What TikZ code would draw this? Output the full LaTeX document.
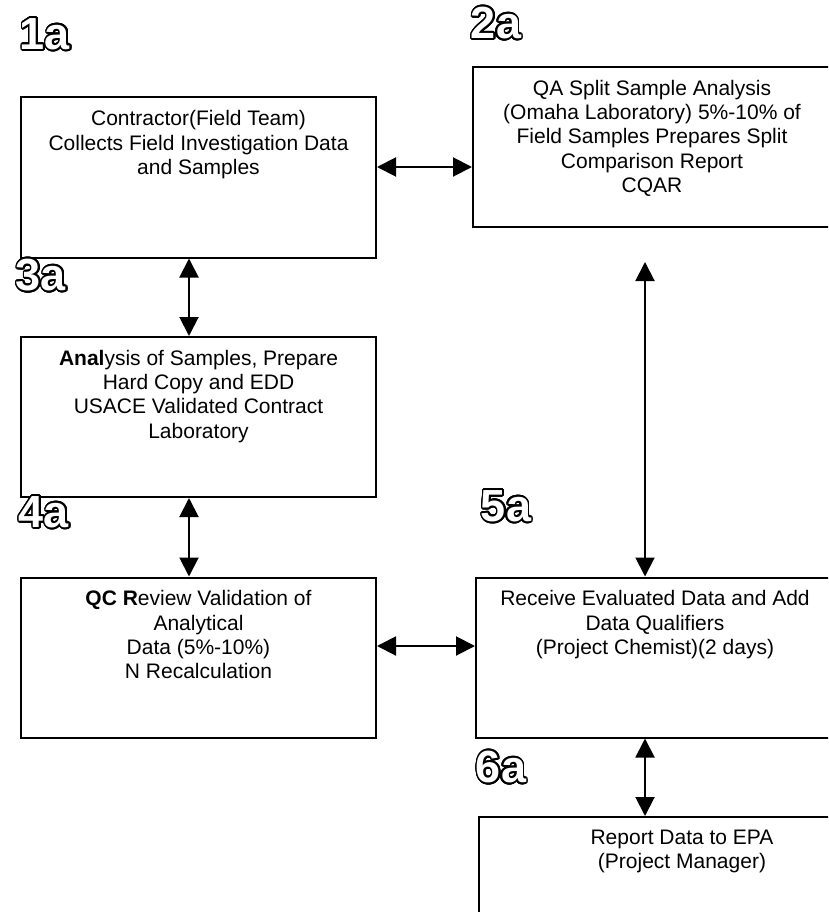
\documentclass[tikz,border=0pt]{standalone}
\usepackage{fontspec}
\setmainfont{Liberation Sans}
\usepackage[copies]{contour}
\usetikzlibrary{arrows.meta}

\contourlength{1.8pt}
\contournumber{24}

% text of a stage box, set at the top of a fixed-height frame
\newcommand{\stagetext}[2]{%
  \begin{minipage}[c][160pt][t]{#1}\centering
  \fontsize{21}{24.3}\selectfont\vspace*{13pt}#2\end{minipage}}
\newcommand{\tagtext}[1]{\color{white}\contour{black}{#1}}

\tikzset{
  stage/.style={draw, line width=2pt, rectangle, inner sep=0pt},
  link/.style={{Triangle[length=19pt,width=19pt]}-{Triangle[length=19pt,width=19pt]}, line width=2pt},
  tag/.style={inner sep=0pt, font=\fontsize{45}{45}\selectfont\bfseries}
}

\begin{document}
\begin{tikzpicture}[x=1pt, y=-1pt]
 \useasboundingbox (0,0) rectangle (828,912);
 \clip (0,0) rectangle (828,912);

 % stages
 \node[stage] (b1) at (198.5,177.5) {\stagetext{355pt}{Contractor(Field Team)\\ Collects Field Investigation Data\\ and Samples}};
 \node[stage] (b2) at (652,147) {\stagetext{358pt}{QA Split Sample Analysis\\ (Omaha Laboratory) 5\%-10\% of\\ Field Samples Prepares Split\\ Comparison Report\\ CQAR}};
 \node[stage] (b3) at (198.5,417) {\stagetext{355pt}{\textbf{Anal}ysis of Samples, Prepare\\ Hard Copy and EDD\\ USACE Validated Contract\\ Laboratory}};
 \node[stage] (b4) at (198.5,657.5) {\stagetext{355pt}{\textbf{QC R}eview Validation of\\ Analytical\\ Data (5\%-10\%)\\ N Recalculation}};
 \node[stage] (b5) at (655,657.5) {\stagetext{358pt}{Receive Evaluated Data and Add\\ Data Qualifiers\\ (Project Chemist)(2 days)}};
 \node[stage] (b6) at (682,897) {\stagetext{406pt}{Report Data to EPA\\ (Project Manager)}};

 % step tags
 \node[tag] (tag1) at (45,35) {\tagtext{1a}};
 \node[tag] (tag2) at (496,24) {\tagtext{2a}};
 \node[tag] (tag3) at (41,276) {\tagtext{3a}};
 \node[tag] (tag4) at (44,513) {\tagtext{4a}};
 \node[tag] (tag5) at (506,507) {\tagtext{5a}};
 \node[tag] (tag6) at (501,768) {\tagtext{6a}};

 % connectors
 \coordinate (row12) at (0,167);
 \coordinate (row45) at (0,646);
 \coordinate (col13) at (189,0);
 \coordinate (col25) at (645,0);
 \coordinate (q25) at (645,262);
 \draw[link] (b1.east |- row12) -- (b2.west |- row12);
 \draw[link] (b1.south -| col13) -- (b3.north -| col13);
 \draw[link] (b3.south -| col13) -- (b4.north -| col13);
 \draw[link] (b4.east |- row45) -- (b5.west |- row45);
 \draw[link] (q25) -- (b5.north -| col25);
 \draw[link] (b5.south -| col25) -- (b6.north -| col25);
\end{tikzpicture}
\end{document}
